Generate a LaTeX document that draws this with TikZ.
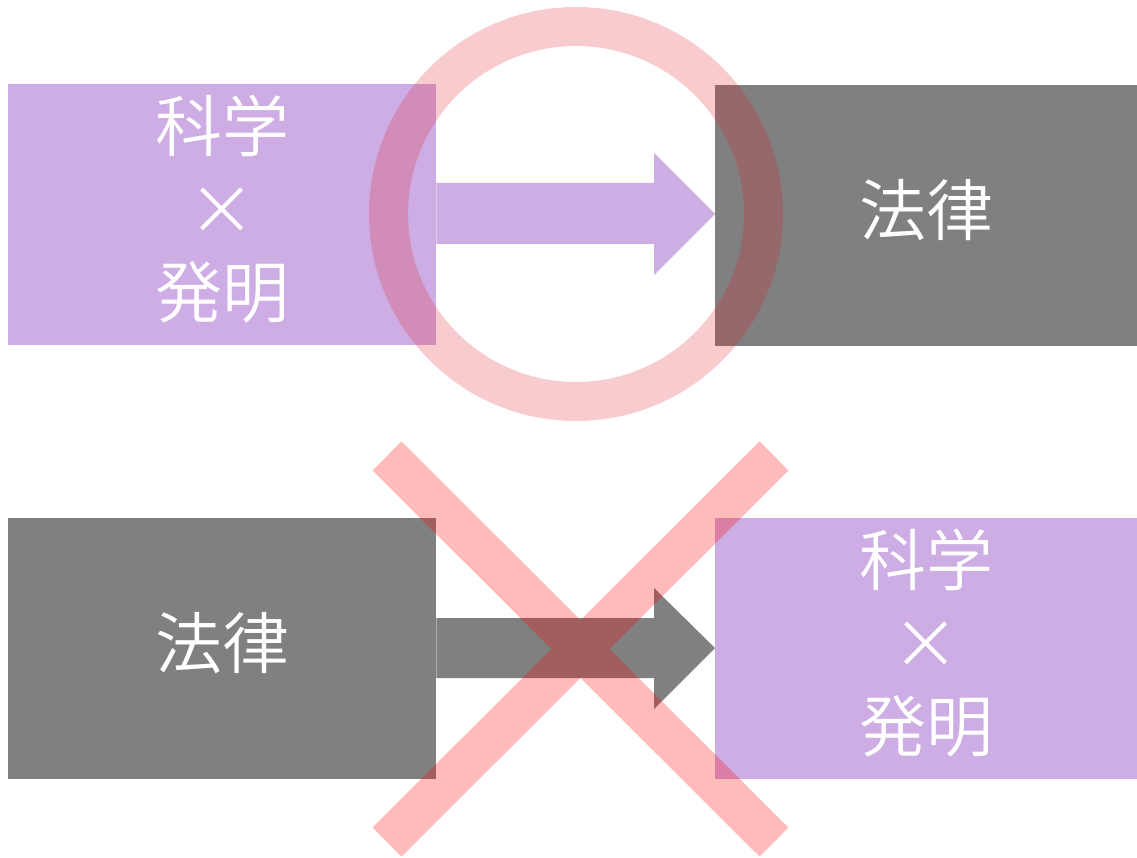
\documentclass[tikz,border=0pt]{standalone}
\usepackage{fontspec}
\newfontfamily\cjk{Noto Sans CJK JP DemiLight}
\definecolor{boxpurple}{RGB}{205,173,228}
\definecolor{boxgray}{RGB}{128,128,128}
\definecolor{okred}{RGB}{225,25,35}
\definecolor{ngred}{RGB}{255,0,0}
\newcommand{\lift}[1]{\raisebox{6pt}[\height][\depth]{#1}}
\begin{document}
\begin{tikzpicture}[x=1pt,y=-1pt,
  box/.style={draw=none, minimum width=428pt, minimum height=261pt, anchor=north west,
    text=white, align=center, inner sep=0pt, font=\cjk\fontsize{67}{83}\selectfont},
  purplebox/.style={box, fill=boxpurple},
  graybox/.style={box, fill=boxgray}]
\useasboundingbox (0,0) rectangle (1137,858);
% top row
\node[purplebox] (a1) at (8,84) {\lift{\parbox{400pt}{\centering 科学\\×\\発明}}};
\node[graybox, minimum width=422pt] (b1) at (715,85) {\lift{法律}};
% bottom row
\node[graybox] (a2) at (8,518) {\lift{法律}};
\node[purplebox, minimum width=422pt] (b2) at (715,518) {\lift{\parbox{400pt}{\centering 科学\\×\\発明}}};
% arrows
\fill[boxpurple] (a1.east |- 0,183) -- (654,183) -- (654,153) -- (b1.west |- 0,214) -- (654,275) -- (654,244) -- (a1.east |- 0,244) -- cycle;
\fill[boxgray] (a2.east |- 0,618) -- (654,618) -- (654,588) -- (b2.west |- 0,648) -- (654,709) -- (654,678) -- (a2.east |- 0,678) -- cycle;
% circle (OK mark)
\draw[okred, draw opacity=0.22, line width=39pt] (576,214) circle[radius=187.5pt];
% cross (NG mark)
\begin{scope}[transparency group, opacity=0.27]
\draw[ngred, line width=41pt] (387,456) coordinate (x1) -- (774,842) coordinate (x2);
\draw[ngred, line width=41pt] (774,456) coordinate (x3) -- (387,842) coordinate (x4);
\end{scope}
\end{tikzpicture}
\end{document}
